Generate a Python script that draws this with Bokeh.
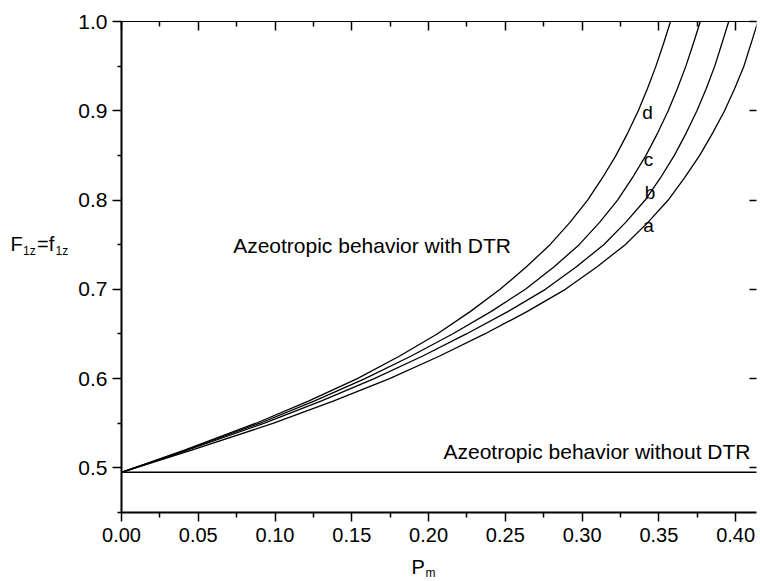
from bokeh.plotting import figure
from bokeh.layouts import column, row
from bokeh.models import Range1d, LinearAxis, Label, FixedTicker, NumeralTickFormatter
from bokeh.core.properties import value
from bokeh.embed import file_html
from bokeh.resources import INLINE

# ---- data (P_m where each curve reaches a given F1z) ----
f_levels = [0.495, 0.52, 0.55, 0.575, 0.60, 0.625, 0.65, 0.675, 0.70, 0.725, 0.75,
            0.775, 0.80, 0.825, 0.85, 0.875, 0.90, 0.925, 0.95, 0.975, 1.00]
pm_a = [0.0, 0.0457, 0.0991, 0.1383, 0.1746, 0.2069, 0.2366, 0.2641, 0.2891, 0.3096, 0.3281,
        0.3429, 0.3561, 0.3668, 0.3766, 0.3850, 0.3928, 0.3994, 0.4054, 0.4100, 0.4145]
pm_b = [0.0, 0.0432, 0.0931, 0.1303, 0.1646, 0.1959, 0.2246, 0.2516, 0.2761, 0.2961, 0.3141,
        0.3284, 0.3411, 0.3511, 0.3601, 0.3678, 0.3748, 0.3809, 0.3864, 0.3910, 0.3955]
pm_c = [0.0, 0.0420, 0.0901, 0.1258, 0.1586, 0.1884, 0.2156, 0.2406, 0.2631, 0.2816, 0.2981,
        0.3114, 0.3231, 0.3328, 0.3416, 0.3492, 0.3561, 0.3621, 0.3676, 0.3724, 0.3770]
pm_d = [0.0, 0.0410, 0.0876, 0.1221, 0.1536, 0.1809, 0.2056, 0.2271, 0.2466, 0.2636, 0.2791,
        0.2921, 0.3036, 0.3133, 0.3221, 0.3297, 0.3366, 0.3426, 0.3481, 0.3530, 0.3576]
curve_names = ["a", "b", "c", "d"]

pm_flat = [0.0, 0.42]
f_flat = [0.495, 0.495]

x_ticks = [0.00, 0.05, 0.10, 0.15, 0.20, 0.25, 0.30, 0.35, 0.40]
x_minor = [0.025, 0.075, 0.125, 0.175, 0.225, 0.275, 0.325, 0.375, 0.425]
y_ticks = [0.5, 0.6, 0.7, 0.8, 0.9, 1.0]
y_minor = [0.45, 0.55, 0.65, 0.75, 0.85, 0.95]

FONT = "Liberation Sans"

# ---- layout geometry ----
W, H = 760, 581
LEFT_W = 72          # strip holding the y title
BOT_H = 25           # strip holding the x title
MAIN_W, MAIN_H = W - LEFT_W, H - BOT_H
FRAME_LEFT = 121
TOP, BOTTOM = 21, MAIN_H - 512

X0, X1 = 0.0, 0.4136
Y0, Y1 = 0.45, 1.0

p = figure(width=MAIN_W, height=MAIN_H, x_range=Range1d(X0, X1), y_range=Range1d(Y0, Y1),
           output_backend="svg", toolbar_location=None,
           min_border_left=FRAME_LEFT - LEFT_W, min_border_right=0, min_border_top=TOP,
           min_border_bottom=BOTTOM)
p.grid.visible = False
p.outline_line_color = None

xt = FixedTicker(ticks=x_ticks, minor_ticks=x_minor)
yt = FixedTicker(ticks=y_ticks, minor_ticks=y_minor)

xa = p.xaxis[0]
xa.ticker = xt
xa.formatter = NumeralTickFormatter(format="0.00")
xa.axis_line_width = 2
xa.major_tick_out = 9
xa.major_tick_in = 0
xa.minor_tick_out = 5
xa.minor_tick_in = 0
xa.major_tick_line_width = 1.5
xa.minor_tick_line_width = 1.5
xa.major_label_text_font = FONT
xa.major_label_text_font_size = "20px"
xa.major_label_text_color = "black"
xa.major_label_standoff = 6

ya = p.yaxis[0]
ya.ticker = yt
ya.formatter = NumeralTickFormatter(format="0.0")
ya.axis_line_width = 2
ya.major_tick_out = 9
ya.major_tick_in = 0
ya.minor_tick_out = 4
ya.minor_tick_in = 0
ya.major_tick_line_width = 1.5
ya.minor_tick_line_width = 1.5
ya.major_label_text_font = FONT
ya.major_label_text_font_size = "21px"
ya.major_label_text_color = "black"
ya.major_label_standoff = 5

top = LinearAxis(ticker=xt, axis_line_width=1, major_tick_in=9, major_tick_out=0,
                 minor_tick_in=5, minor_tick_out=0, major_tick_line_width=1.5,
                 minor_tick_line_width=1.5, major_label_text_font_size="1px",
                 major_label_text_color=None, major_label_standoff=0)
p.add_layout(top, "above")

right = LinearAxis(ticker=yt, axis_line_color=None, major_tick_in=7, major_tick_out=0,
                   minor_tick_line_color=None, major_tick_line_width=1.5,
                   major_label_text_font_size="1px", major_label_text_color=None,
                   major_label_standoff=0)
p.add_layout(right, "right")

for xs in [pm_a, pm_b, pm_c, pm_d]:
    p.line(xs, f_levels, line_color="black", line_width=1.3)
p.line(pm_flat, f_flat, line_color="black", line_width=1.5)

# pixel -> data helpers for in-frame text placement
FRAME_W = MAIN_W - (FRAME_LEFT - LEFT_W) - 2
SX = FRAME_W / (X1 - X0)
SY = (512 - TOP) / (Y1 - Y0)
def dx(px):
    return X0 + (px - FRAME_LEFT) / SX
def dy(py):
    return Y0 + (512 - py) / SY

SHIFT = 0.4  # baseline correction, fraction of font size

def lab(text, px, py, size):
    p.add_layout(Label(x=dx(px), y=dy(py - SHIFT * size), text=text, text_font=FONT,
                       text_font_size=f"{size}px", text_color="black",
                       text_align="left", text_baseline="alphabetic"))

lab("Azeotropic behavior with DTR", 233, 253.5, 21)
lab("Azeotropic behavior without DTR", 444, 459.5, 21)
for name, (px, py) in zip(curve_names, [(644.5, 233), (646, 200), (645, 166.5), (643.5, 120)]):
    lab(name, px, py, 19)

# ---- strips for axis titles with subscripts ----
def strip(w, h):
    f = figure(width=w, height=h, x_range=Range1d(0, w), y_range=Range1d(h, 0),
               output_backend="svg", toolbar_location=None, min_border=0,
               x_axis_location=None, y_axis_location=None)
    f.grid.visible = False
    f.outline_line_color = None
    return f

def stext(f, xs, ys, texts, size):
    f.text(x=xs, y=[y - SHIFT * size for y in ys], text=texts, text_font=value(FONT),
           text_font_size=f"{size}px", text_baseline="alphabetic", text_color="black")

ytitle = strip(LEFT_W, MAIN_H)
stext(ytitle, [10, 36.5], [260, 260], ["F", "=f"], 20)
stext(ytitle, [22.5, 55], [265, 265], ["1z", "1z"], 12)

xtitle = strip(W, BOT_H)
stext(xtitle, [411], [18.5], ["P"], 20)
stext(xtitle, [425], [21.5], ["m"], 12)

layout = column(row(ytitle, p, spacing=0), xtitle, spacing=0)
open("out.html", "w").write(file_html(layout, INLINE))
